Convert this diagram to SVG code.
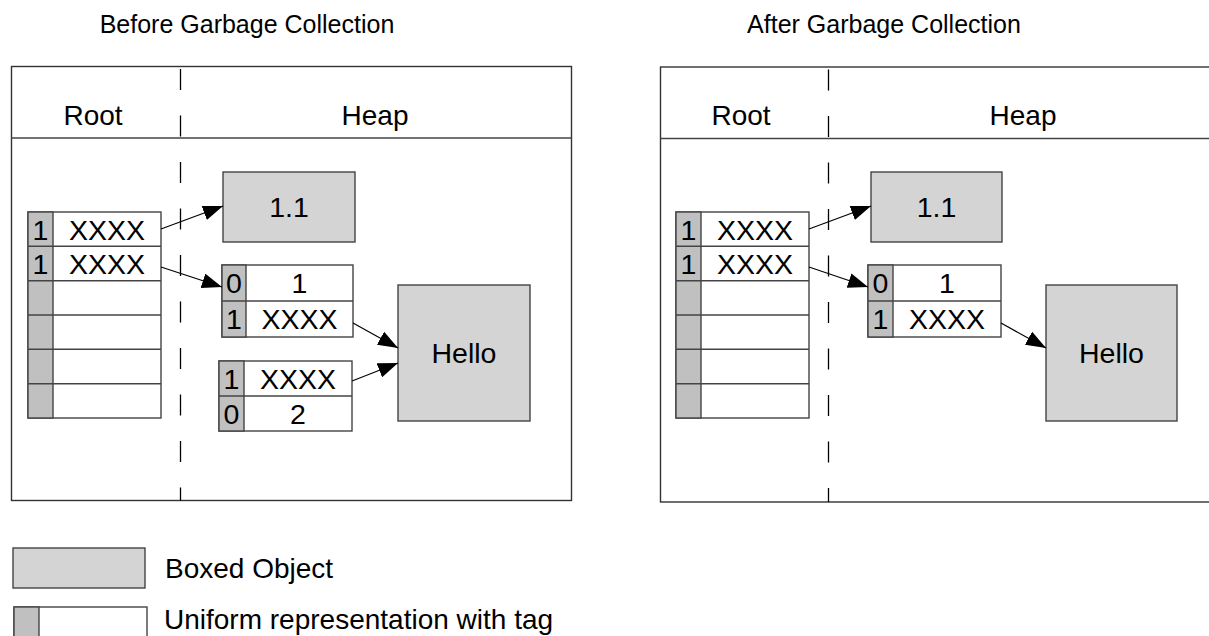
<svg xmlns="http://www.w3.org/2000/svg" width="1209" height="636" viewBox="0 0 1209 636">
<style>
text{font-family:"Liberation Sans",Arial,sans-serif;fill:#000}
.t{font-size:25px}
.h{font-size:28px;text-anchor:middle}
.c{font-size:28.5px;text-anchor:middle}
.lg{font-size:28px}
.panel{fill:#fff;stroke:#333;stroke-width:1.4}
.hdr{stroke:#444;stroke-width:1.6}
.dash{stroke:#000;stroke-width:1.3;stroke-dasharray:21 25.5}
.box{fill:#d4d4d4;stroke:#444;stroke-width:1.4}
.cell{fill:#fff;stroke:#444;stroke-width:1.4}
.tag{fill:#c0c0c0;stroke:#444;stroke-width:1.4}
.arr{stroke:#000;stroke-width:1.2;fill:none;marker-end:url(#ah)}
</style>
<defs>
<marker id="ah" markerUnits="userSpaceOnUse" markerWidth="20" markerHeight="15" refX="20" refY="7.5" orient="auto">
<path d="M0,0 L20,7.5 L0,15 z" fill="#000"/>
</marker>
<g id="rootTable">
<rect class="cell" x="28" y="212" width="133" height="206"/>
<rect class="tag" x="28" y="212" width="25" height="206"/>
<line class="cell" x1="28" y1="246.3" x2="161" y2="246.3"/>
<line class="cell" x1="28" y1="280.7" x2="161" y2="280.7"/>
<line class="cell" x1="28" y1="315" x2="161" y2="315"/>
<line class="cell" x1="28" y1="349.3" x2="161" y2="349.3"/>
<line class="cell" x1="28" y1="383.7" x2="161" y2="383.7"/>
<text class="c" x="40.5" y="239.5">1</text>
<text class="c" x="107" y="239.5">XXXX</text>
<text class="c" x="40.5" y="274">1</text>
<text class="c" x="107" y="274">XXXX</text>
</g>
</defs>

<g id="titles">
<text class="t" x="247" y="33" text-anchor="middle">Before Garbage Collection</text>
<text class="t" x="884" y="33" text-anchor="middle">After Garbage Collection</text>
</g>

<g id="panel-before">
<rect class="panel" x="11.5" y="66.5" width="560" height="434"/>
<line class="hdr" x1="11.5" y1="138" x2="571.5" y2="138"/>
<line class="dash" x1="180.5" y1="69" x2="180.5" y2="500.5"/>
<text class="h" x="93" y="124.5">Root</text>
<text class="h" x="375" y="124.5">Heap</text>
</g>

<g id="panel-after">
<rect class="panel" x="660.5" y="67" width="570" height="435"/>
<line class="hdr" x1="660.5" y1="138.5" x2="1209" y2="138.5"/>
<line class="dash" x1="828.5" y1="69.5" x2="828.5" y2="502"/>
<text class="h" x="741" y="125">Root</text>
<text class="h" x="1023" y="125">Heap</text>
</g>

<g id="root-before"><use href="#rootTable"/></g>
<g id="root-after"><use href="#rootTable" x="648"/></g>

<g id="box11-before">
<rect class="box" x="223" y="172" width="132" height="70"/>
<text class="c" x="289" y="217">1.1</text>
</g>
<g id="obj1-before">
<rect class="cell" x="222" y="265" width="131" height="72"/>
<rect class="tag" x="222" y="265" width="24" height="72"/>
<line class="cell" x1="222" y1="301" x2="353" y2="301"/>
<text class="c" x="234" y="293">0</text>
<text class="c" x="299.5" y="293">1</text>
<text class="c" x="234" y="329">1</text>
<text class="c" x="299.5" y="329">XXXX</text>
</g>
<g id="obj2-before">
<rect class="cell" x="219" y="361" width="133" height="70"/>
<rect class="tag" x="219" y="361" width="25" height="70"/>
<line class="cell" x1="219" y1="396" x2="352" y2="396"/>
<text class="c" x="231.5" y="388.5">1</text>
<text class="c" x="298" y="388.5">XXXX</text>
<text class="c" x="231.5" y="423.5">0</text>
<text class="c" x="298" y="423.5">2</text>
</g>
<g id="hello-before">
<rect class="box" x="398" y="285" width="132" height="136"/>
<text class="c" x="464" y="363">Hello</text>
</g>

<g id="box11-after">
<rect class="box" x="871" y="172" width="131" height="70"/>
<text class="c" x="936.5" y="217">1.1</text>
</g>
<g id="obj1-after">
<rect class="cell" x="868" y="265" width="133" height="72"/>
<rect class="tag" x="868" y="265" width="25" height="72"/>
<line class="cell" x1="868" y1="301" x2="1001" y2="301"/>
<text class="c" x="880.5" y="293">0</text>
<text class="c" x="947" y="293">1</text>
<text class="c" x="880.5" y="329">1</text>
<text class="c" x="947" y="329">XXXX</text>
</g>
<g id="hello-after">
<rect class="box" x="1046" y="285" width="131" height="136"/>
<text class="c" x="1111.5" y="363">Hello</text>
</g>

<g id="connectors">
<line class="arr" x1="161" y1="229" x2="223" y2="206"/>
<line class="arr" x1="161" y1="267" x2="222" y2="287"/>
<line class="arr" x1="353" y1="323" x2="398" y2="348"/>
<line class="arr" x1="352" y1="381" x2="398" y2="363"/>
<line class="arr" x1="809" y1="229" x2="871" y2="206"/>
<line class="arr" x1="809" y1="267" x2="868" y2="287"/>
<line class="arr" x1="1001" y1="323" x2="1046" y2="348"/>
</g>

<g id="legend">
<rect class="box" x="13" y="548" width="132" height="40"/>
<text class="lg" x="165" y="578">Boxed Object</text>
<rect class="cell" x="14" y="607" width="133" height="40"/>
<rect class="tag" x="14" y="607" width="25" height="40"/>
<text class="lg" x="164" y="629">Uniform representation with tag</text>
</g>
</svg>
